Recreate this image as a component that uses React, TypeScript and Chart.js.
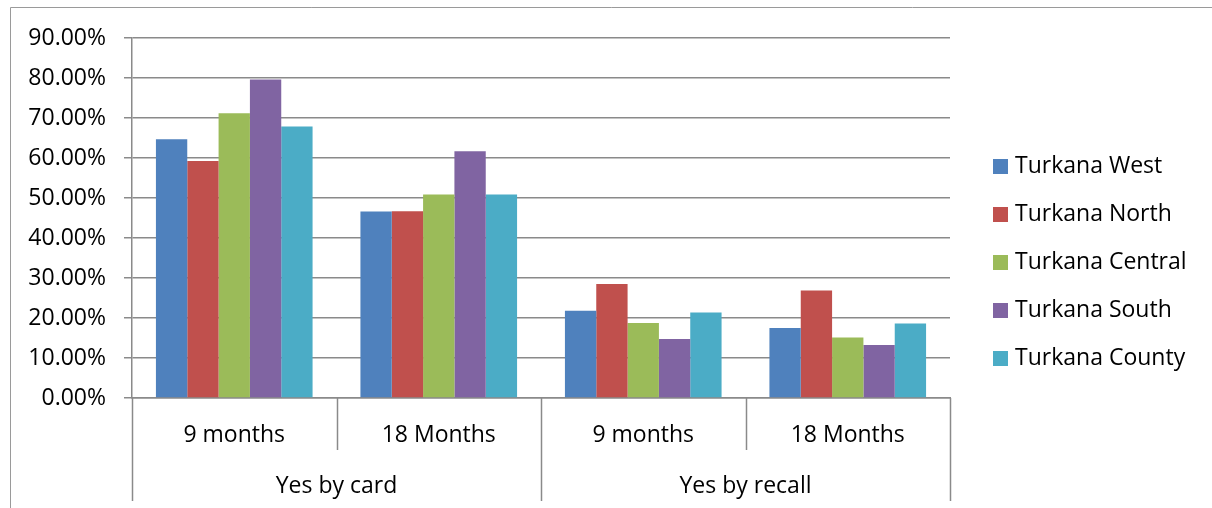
import React, { useEffect, useRef } from "react";
import { Chart, registerables } from "chart.js";

Chart.register(...registerables);

const groups = ["Yes by card", "Yes by recall"];
const periods = ["9 months", "18 Months", "9 months", "18 Months"];
const yTicks = [0, 0.1, 0.2, 0.3, 0.4, 0.5, 0.6, 0.7, 0.8, 0.9];

const turkanaWest = [0.647, 0.466, 0.218, 0.175];
const turkanaNorth = [0.5925, 0.467, 0.285, 0.269];
const turkanaCentral = [0.712, 0.509, 0.1875, 0.151];
const turkanaSouth = [0.796, 0.617, 0.1475, 0.1325];
const turkanaCounty = [0.679, 0.509, 0.2135, 0.186];

const seriesNames = ["Turkana West", "Turkana North", "Turkana Central", "Turkana South", "Turkana County"];
const seriesColors = ["#4F81BD", "#C0504D", "#9BBB59", "#8064A2", "#4BACC6"];
const seriesValues = [turkanaWest, turkanaNorth, turkanaCentral, turkanaSouth, turkanaCounty];

const FONT = "'Open Sans', 'Noto Sans', sans-serif";
const FONT_SIZE = 23;
const AXIS_GRAY = "#8a8a8a";

// Frame, two-level category axis and legend
const decorations = {
  id: "decorations",
  afterDraw(chart: any) {
    const ctx = chart.ctx as CanvasRenderingContext2D;
    const x = chart.scales.x;
    const area = chart.chartArea;
    ctx.save();

    // outer frame
    ctx.strokeStyle = "#9a9a9a";
    ctx.lineWidth = 1;
    ctx.beginPath();
    ctx.moveTo(10.5, 520);
    ctx.lineTo(10.5, 7.5);
    ctx.lineTo(1230, 7.5);
    ctx.stroke();

    // category dividers
    const n = periods.length;
    const w = (area.right - area.left) / n;
    const base = area.bottom;
    ctx.strokeStyle = AXIS_GRAY;
    ctx.lineWidth = 1.5;
    for (let k = 0; k <= n; k++) {
      const px = Math.round(area.left + k * w) + 0.5;
      const long = k % 2 === 0;
      ctx.beginPath();
      ctx.moveTo(px, base);
      ctx.lineTo(px, long ? base + 103 : base + 52);
      ctx.stroke();
    }

    // labels
    ctx.fillStyle = "#000";
    ctx.font = `${FONT_SIZE}px ${FONT}`;
    ctx.textAlign = "center";
    ctx.textBaseline = "middle";
    periods.forEach((p, i) => {
      ctx.fillText(p, x.getPixelForValue(i), base + 37);
    });
    groups.forEach((g, i) => {
      const cx = (x.getPixelForValue(i * 2) + x.getPixelForValue(i * 2 + 1)) / 2;
      ctx.fillText(g, cx, base + 88);
    });

    // legend
    ctx.textAlign = "left";
    chart.data.datasets.forEach((ds: any, i: number) => {
      const cy = 166 + i * 48;
      ctx.fillStyle = ds.backgroundColor;
      ctx.fillRect(993, cy - 7, 15, 15);
      ctx.fillStyle = "#000";
      ctx.fillText(ds.label, 1015, cy);
    });
    ctx.restore();
  },
};

export default function App() {
  const ref = useRef<HTMLCanvasElement>(null);
  useEffect(() => {
    if (!ref.current) return;
    const chart = new Chart(ref.current, {
      type: "bar",
      data: {
        labels: periods,
        datasets: seriesNames.map((name, i) => ({
          label: name,
          data: seriesValues[i],
          backgroundColor: seriesColors[i],
          borderWidth: 0,
          barPercentage: 1,
          categoryPercentage: 0.766,
        })),
      },
      options: {
        responsive: false,
        animation: false,
        layout: { padding: { left: 0, right: 262, top: 38, bottom: 0 } },
        plugins: { legend: { display: false }, tooltip: { enabled: false } },
        scales: {
          x: {
            grid: { display: false },
            border: { display: true, color: AXIS_GRAY, width: 1.5 },
            ticks: { display: false },
            afterFit(scale: any) {
              scale.height = 110;
            },
          },
          y: {
            min: 0,
            max: 0.9,
            afterBuildTicks(scale: any) {
              scale.ticks = yTicks.map((v) => ({ value: v }));
            },
            grid: { color: AXIS_GRAY, lineWidth: 1.5, tickLength: 8, drawTicks: true },
            border: { display: true, color: AXIS_GRAY, width: 1.5 },
            ticks: {
              padding: 18,
              color: "#000",
              font: { family: FONT, size: FONT_SIZE },
              callback: (v: any) => (Number(v) * 100).toFixed(2) + "%",
            },
            afterFit(scale: any) {
              scale.width = 132;
            },
          },
        },
      },
      plugins: [decorations],
    });
    return () => chart.destroy();
  }, []);
  return (
    <div style={{ position: "fixed", left: 0, top: 0, width: 1212, height: 508, background: "#fff" }}>
      <canvas ref={ref} width={1212} height={508} />
    </div>
  );
}
